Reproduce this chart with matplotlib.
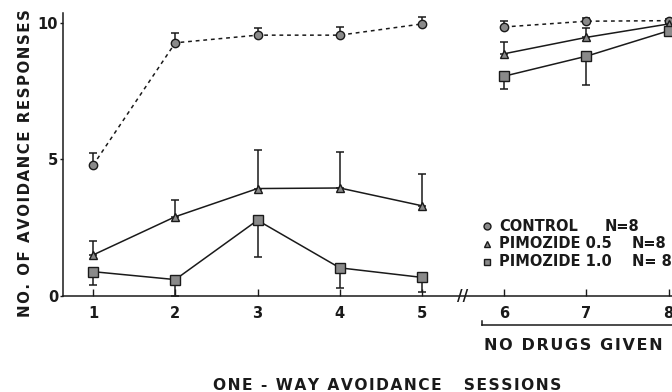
import matplotlib
matplotlib.use("Agg")
import matplotlib.pyplot as plt
import matplotlib.transforms as mtransforms

plt.rcParams['font.family'] = ['DejaVu Sans']
plt.rcParams['font.weight'] = 'bold'

sessions = [1, 2, 3, 4, 5, 6, 7, 8]
xtick_labels = ['1', '2', '3', '4', '5', '6', '7', '8']

control = [4.78, 9.26, 9.54, 9.54, 9.95, 9.84, 10.05, 10.07]
control_err = [0.44, 0.36, 0.26, 0.29, 0.25, 0.23, 0.1, 0.05]

pim05 = [1.5, 2.9, 3.93, 3.95, 3.3, 8.86, 9.46, 9.95]
pim05_err = [0.5, 0.6, 1.42, 1.31, 1.15, 0.44, 0.34, 0.05]

pim10 = [0.89, 0.6, 2.77, 1.03, 0.68, 8.04, 8.77, 9.7]
pim10_err = [0.49, 0.6, 1.34, 0.73, 0.52, 0.46, 1.07, 0.05]

legend_names = ['CONTROL', 'PIMOZIDE 0.5', 'PIMOZIDE 1.0']
legend_n = ['N=8', 'N=8', 'N= 8']


def spaced(s):
    return '\u200a'.join(s)


fig = plt.figure(figsize=(6.72, 3.92), dpi=100)
ax = fig.add_axes([63/672, 96/392, 1 - 63/672, 286/392])
ax.set_xlim(0.635, 8.04)
ax.set_ylim(0, 10.46)

ink = '#1a1a1a'
fill = '#8a8a8a'


def draw(vals, err, marker, ls, up, ms):
    segs = [(0, 5), (5, 8)]
    for a, b in segs:
        ax.plot(sessions[a:b], vals[a:b], color=ink, lw=1.1, ls=ls,
                marker=marker, ms=ms, mfc=fill, mec=ink, mew=1.0,
                clip_on=False, zorder=3)
    lower = [0]*len(vals) if up else err
    upper = err if up else [0]*len(vals)
    ax.errorbar(sessions, vals, yerr=[lower, upper], fmt='none',
                ecolor=ink, elinewidth=1.1, capsize=3, capthick=1.1,
                clip_on=False, zorder=2)


draw(control, control_err, 'o', (0, (2.5, 2.5)), True, 6)
draw(pim05, pim05_err, '^', '-', True, 6)
draw(pim10, pim10_err, 's', '-', False, 6.5)

ax.spines['top'].set_visible(False)
ax.spines['right'].set_visible(False)
ax.spines['left'].set_color(ink)
ax.spines['bottom'].set_color(ink)
ax.spines['left'].set_linewidth(1.1)
ax.spines['bottom'].set_linewidth(1.1)
ax.spines['left'].set_bounds(0, 10.35)

ax.set_xticks(sessions)
ax.set_xticklabels(xtick_labels)
ax.set_yticks([0, 5, 10])
ax.set_yticklabels(['0', '5', '10'])
ax.tick_params(axis='x', direction='in', length=5, width=1, pad=7,
               labelsize=10.5, colors=ink)
ax.tick_params(axis='y', direction='out', length=2, width=1, pad=1.5,
               labelsize=10.5, colors=ink)
for lab in ax.get_xticklabels() + ax.get_yticklabels():
    lab.set_fontweight('bold')

# axis break marks
trans = mtransforms.blended_transform_factory(ax.transData, ax.transAxes)
ax.text(5.5, 0.0, '//', transform=trans, ha='center', va='center',
        fontsize=11, fontweight='bold', color=ink)

# bracket for no drugs
ax.plot([5.73, 8.04], [-0.102, -0.102], transform=trans, color=ink,
        lw=1.1, clip_on=False)
ax.plot([5.73, 5.73], [-0.102, -0.088], transform=trans, color=ink,
        lw=1.1, clip_on=False)
ax.text(6.84, -0.172, spaced('NO DRUGS GIVEN'), transform=trans,
        ha='center', va='center', fontsize=11.5, fontweight='bold',
        color=ink)

# legend
leg_markers = ['o', '^', 's']
leg_y = [226.5, 244, 261.5]
n_x = [605, 632, 632]
for m, name, n, y, nx in zip(leg_markers, legend_names, legend_n, leg_y, n_x):
    fy = 1 - y/392
    fig.lines.append(plt.Line2D([487/672], [fy], transform=fig.transFigure,
                                marker=m, ms=5, mfc=fill, mec=ink, mew=1.0,
                                ls='none'))
    fig.text(499/672, fy, name, ha='left', va='center', fontsize=10.5,
             fontweight='bold', color=ink)
    fig.text(nx/672, fy, n, ha='left', va='center', fontsize=10.5,
             fontweight='bold', color=ink)

fig.text(25.5/672, 1 - 163/392, spaced('NO. OF AVOIDANCE RESPONSES'),
         rotation=90, ha='center', va='center', fontsize=10.8,
         fontweight='bold', color=ink)
fig.text(387/672, 1 - 385/392, spaced('ONE - WAY AVOIDANCE   SESSIONS'),
         ha='center', va='center', fontsize=11.2, fontweight='bold',
         color=ink)

fig.savefig('out.png', dpi=100)
